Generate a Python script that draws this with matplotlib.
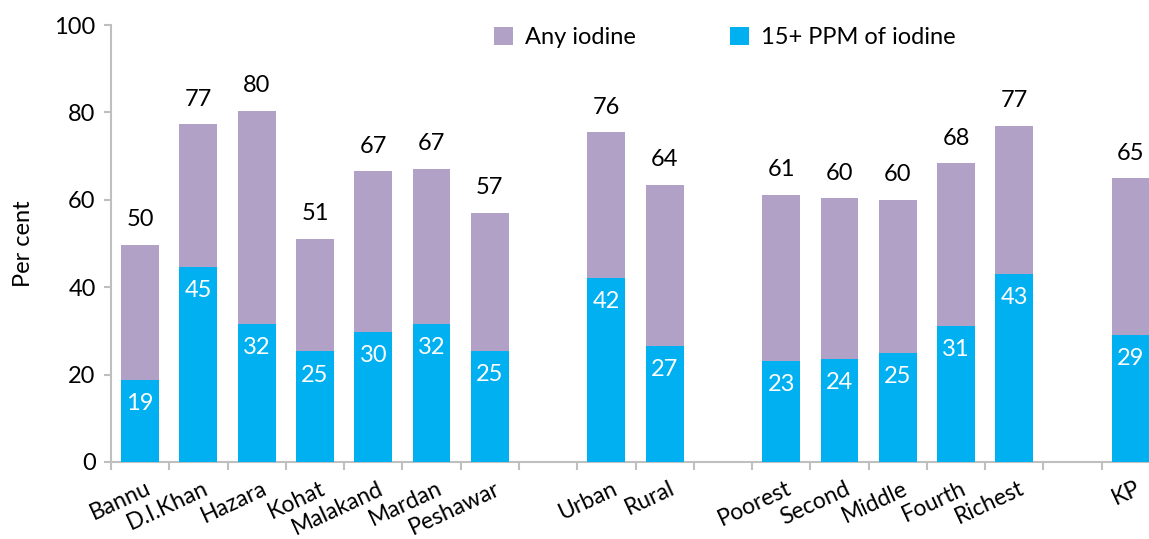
import numpy as np
import matplotlib.pyplot as plt

plt.rcParams['font.family'] = ['Lato', 'DejaVu Sans']

# Categories, with None marking the blank slots between groups
categories = ['Bannu', 'D.I.Khan', 'Hazara', 'Kohat', 'Malakand', 'Mardan', 'Peshawar', None,
              'Urban', 'Rural', None,
              'Poorest', 'Second', 'Middle', 'Fourth', 'Richest', None,
              'KP']
any_iodine = [49.7, 77.3, 80.4, 51.1, 66.6, 67.1, 57.0, None,
              75.5, 63.5, None,
              61.2, 60.4, 60.0, 68.4, 77.0, None,
              65.0]
ppm15 = [18.8, 44.6, 31.6, 25.3, 29.8, 31.6, 25.4, None,
         42.2, 26.6, None,
         23.1, 23.6, 25.0, 31.1, 43.1, None,
         29.1]

purple = '#b2a1c7'
blue = '#00b0f0'
grey = '#bfbfbf'
fs = 17

fig = plt.figure(figsize=(11.49, 5.39), dpi=100)
ax = fig.add_axes([111 / 1149, 77 / 539, 1049 / 1149, 437 / 539])

idx = [i for i, c in enumerate(categories) if c is not None]
x = np.array(idx, dtype=float)
a = np.array([any_iodine[i] for i in idx])
b = np.array([ppm15[i] for i in idx])
width = 0.65

ax.bar(x, a, width, color=purple, label='Any iodine', zorder=2)
ax.bar(x, b, width, color=blue, label='15+ PPM of iodine', zorder=3)

for xi, ai, bi in zip(x, a, b):
    ax.text(xi, ai + 3.3, f'{ai:.0f}', ha='center', va='bottom', fontsize=fs, color='black')
    ax.text(xi, bi - 3.0, f'{bi:.0f}', ha='center', va='top', fontsize=fs, color='white', zorder=4)

ax.set_xlim(-0.5, len(categories) - 0.5)
ax.set_ylim(0, 100)
ax.set_yticks(np.arange(0, 101, 20))
ax.tick_params(axis='y', labelsize=fs, length=5, color=grey, width=1.5, pad=6)
ax.set_ylabel('Per cent', fontsize=fs, labelpad=15)

# category boundary ticks on the x axis
ax.set_xticks(np.arange(len(categories)) - 0.5, minor=False)
ax.set_xticklabels([])
ax.tick_params(axis='x', length=6, color=grey, width=1.5)
for xi in idx:
    ax.text(xi + 0.08, -3.6, categories[xi], rotation=25, ha='right', va='top',
            rotation_mode='anchor', fontsize=16.5)

for side in ['top', 'right']:
    ax.spines[side].set_visible(False)
for side in ['left', 'bottom']:
    ax.spines[side].set_color(grey)
    ax.spines[side].set_linewidth(1.5)

ax.legend(loc='upper left', bbox_to_anchor=(0.345, 1.045), ncol=2, frameon=False,
          fontsize=fs, handlelength=0.8, handleheight=0.8, columnspacing=4.0,
          handletextpad=0.5)

fig.savefig('out.png', dpi=100)
